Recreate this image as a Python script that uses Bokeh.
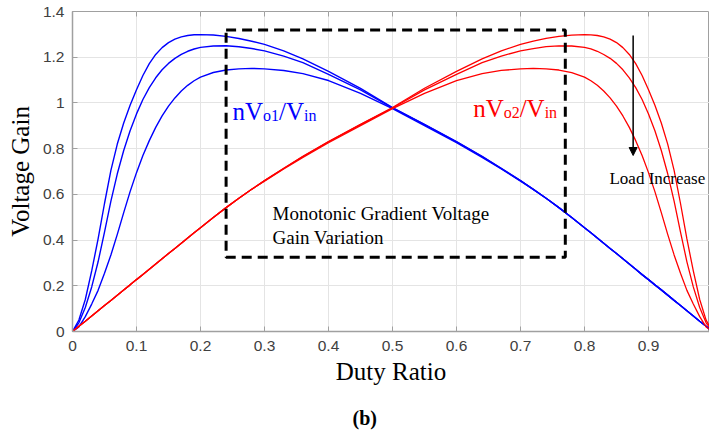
from bokeh.plotting import figure
from bokeh.models import (ColumnDataSource, FixedTicker, Range1d,
                          BoxAnnotation, Label, Arrow, NormalHead, Title)
from bokeh.embed import file_html
from bokeh.resources import INLINE

duty = [0.00, 0.01, 0.02, 0.03, 0.04, 0.05, 0.06, 0.07, 0.08, 0.09, 0.10,
        0.11, 0.12, 0.13, 0.14, 0.15, 0.16, 0.17, 0.18, 0.19, 0.20,
        0.22, 0.24, 0.26, 0.28, 0.30, 0.33, 0.36, 0.40, 0.45,
        0.50,
        0.55, 0.60, 0.64, 0.67, 0.70, 0.72, 0.74, 0.76, 0.78,
        0.80, 0.81, 0.82, 0.83, 0.84, 0.85, 0.86, 0.87, 0.88, 0.89, 0.90,
        0.91, 0.92, 0.93, 0.94, 0.95, 0.96, 0.97, 0.98, 0.99, 1.00]

blue_a = [0.000, 0.050, 0.140, 0.265, 0.405, 0.560, 0.705, 0.820, 0.912, 0.990, 1.058,
          1.120, 1.172, 1.212, 1.242, 1.264, 1.279, 1.289, 1.295, 1.298, 1.299,
          1.297, 1.291, 1.282, 1.270, 1.256, 1.228, 1.193, 1.138, 1.064,
          0.980,
          0.906, 0.831, 0.766, 0.714, 0.660, 0.622, 0.583, 0.542, 0.499,
          0.454, 0.432, 0.409, 0.386, 0.363, 0.341, 0.318, 0.295, 0.272, 0.249, 0.227,
          0.204, 0.182, 0.159, 0.136, 0.114, 0.091, 0.068, 0.045, 0.023, 0.000]
blue_b = [0.000, 0.038, 0.105, 0.195, 0.305, 0.435, 0.570, 0.690, 0.792, 0.878, 0.952,
          1.015, 1.067, 1.110, 1.145, 1.173, 1.195, 1.212, 1.226, 1.236, 1.243,
          1.249, 1.250, 1.246, 1.238, 1.228, 1.205, 1.176, 1.125, 1.057,
          0.978,
          0.905, 0.830, 0.765, 0.713, 0.660, 0.622, 0.583, 0.542, 0.499,
          0.454, 0.432, 0.409, 0.386, 0.363, 0.341, 0.318, 0.295, 0.272, 0.249, 0.227,
          0.204, 0.182, 0.159, 0.136, 0.114, 0.091, 0.068, 0.045, 0.023, 0.000]
blue_c = [0.000, 0.020, 0.065, 0.120, 0.180, 0.255, 0.335, 0.425, 0.520, 0.612, 0.695,
          0.770, 0.835, 0.893, 0.943, 0.986, 1.022, 1.052, 1.077, 1.097, 1.113,
          1.133, 1.144, 1.149, 1.151, 1.149, 1.142, 1.128, 1.098, 1.042,
          0.975,
          0.901, 0.826, 0.762, 0.711, 0.658, 0.622, 0.583, 0.542, 0.499,
          0.454, 0.432, 0.409, 0.386, 0.363, 0.341, 0.318, 0.295, 0.272, 0.249, 0.227,
          0.204, 0.182, 0.159, 0.136, 0.114, 0.091, 0.068, 0.045, 0.023, 0.000]

red_a = [0.000, 0.023, 0.045, 0.068, 0.091, 0.114, 0.136, 0.159, 0.182, 0.204, 0.227,
         0.249, 0.272, 0.295, 0.318, 0.341, 0.363, 0.386, 0.409, 0.432, 0.454,
         0.499, 0.542, 0.583, 0.622, 0.660, 0.714, 0.766, 0.831, 0.906,
         0.980,
         1.064, 1.138, 1.193, 1.228, 1.256, 1.270, 1.282, 1.291, 1.297,
         1.299, 1.298, 1.295, 1.289, 1.279, 1.264, 1.242, 1.212, 1.172, 1.120, 1.058,
         0.990, 0.912, 0.820, 0.705, 0.560, 0.405, 0.265, 0.140, 0.050, 0.000]
red_b = [0.000, 0.023, 0.045, 0.068, 0.091, 0.114, 0.136, 0.159, 0.182, 0.204, 0.227,
         0.249, 0.272, 0.295, 0.318, 0.341, 0.363, 0.386, 0.409, 0.432, 0.454,
         0.499, 0.542, 0.583, 0.622, 0.660, 0.713, 0.765, 0.830, 0.905,
         0.978,
         1.057, 1.125, 1.176, 1.205, 1.228, 1.238, 1.246, 1.250, 1.249,
         1.243, 1.236, 1.226, 1.212, 1.195, 1.173, 1.145, 1.110, 1.067, 1.015, 0.952,
         0.878, 0.792, 0.690, 0.570, 0.435, 0.305, 0.195, 0.105, 0.038, 0.000]
red_c = [0.000, 0.023, 0.045, 0.068, 0.091, 0.114, 0.136, 0.159, 0.182, 0.204, 0.227,
         0.249, 0.272, 0.295, 0.318, 0.341, 0.363, 0.386, 0.409, 0.432, 0.454,
         0.499, 0.542, 0.583, 0.622, 0.658, 0.711, 0.762, 0.826, 0.901,
         0.975,
         1.042, 1.098, 1.128, 1.142, 1.149, 1.151, 1.149, 1.144, 1.133,
         1.113, 1.097, 1.077, 1.052, 1.022, 0.986, 0.943, 0.893, 0.835, 0.770, 0.695,
         0.612, 0.520, 0.425, 0.335, 0.255, 0.180, 0.120, 0.065, 0.020, 0.000]

x_ticks = [0.0, 0.1, 0.2, 0.3, 0.4, 0.5, 0.6, 0.7, 0.8, 0.9]
x_tick_labels = ["0", "0.1", "0.2", "0.3", "0.4", "0.5", "0.6", "0.7", "0.8", "0.9"]
y_ticks = [0.0, 0.2, 0.4, 0.6, 0.8, 1.0, 1.2, 1.4]
y_tick_labels = ["0", "0.2", "0.4", "0.6", "0.8", "1", "1.2", "1.4"]

SERIF = "Liberation Serif"
SANS = "Liberation Sans"
AX_GRAY = "#a0a0a0"
Y_TOP = 1.4
TICK_LEN = 5 / 228.6

src = ColumnDataSource(dict(duty=duty, blue_a=blue_a, blue_b=blue_b, blue_c=blue_c,
                            red_a=red_a, red_b=red_b, red_c=red_c))

p = figure(frame_width=637, frame_height=320,
           x_range=Range1d(0, 0.9953), y_range=Range1d(0, Y_TOP),
           output_backend="svg", toolbar_location=None,
           min_border_left=72, min_border_right=0, min_border_top=11, min_border_bottom=105,
           background_fill_color="white", border_fill_color="white")
p.outline_line_color = AX_GRAY

for ax, ticks, labels in ((p.xaxis[0], x_ticks, x_tick_labels), (p.yaxis[0], y_ticks, y_tick_labels)):
    ax.ticker = FixedTicker(ticks=ticks)
    ax.major_label_overrides = dict(zip(ticks, labels))
    ax.axis_line_color = AX_GRAY
    ax.axis_line_width = 1.5
    ax.major_tick_line_color = AX_GRAY
    ax.major_tick_in = 5
    ax.major_tick_out = 0
    ax.minor_tick_line_color = None
    ax.major_label_text_font = SANS
    ax.major_label_text_font_size = "15.5px"
    ax.major_label_text_color = "#404040"
    ax.axis_label_text_font = SERIF
    ax.axis_label_text_font_size = "25px"
    ax.axis_label_text_font_style = "normal"
    ax.axis_label_text_color = "black"

p.xaxis[0].axis_label = "Duty Ratio"
p.xaxis[0].major_label_standoff = 9
p.xaxis[0].axis_label_standoff = 4
p.yaxis[0].axis_label = "Voltage Gain"
p.yaxis[0].major_label_standoff = 8
p.yaxis[0].axis_label_standoff = 6

p.xgrid.ticker = FixedTicker(ticks=x_ticks)
p.ygrid.ticker = FixedTicker(ticks=y_ticks)
p.xgrid.grid_line_color = "#e4e4e4"
p.ygrid.grid_line_color = "#e4e4e4"

# inward tick marks along the top edge of the box
p.segment(x0=x_ticks, y0=[Y_TOP] * len(x_ticks), x1=x_ticks,
          y1=[Y_TOP - TICK_LEN] * len(x_ticks), line_color=AX_GRAY, line_width=1)

for col in ("blue_a", "blue_b", "blue_c"):
    p.line("duty", col, source=src, line_color="#0000ff", line_width=1.4)
for col in ("red_a", "red_b", "red_c"):
    p.line("duty", col, source=src, line_color="#ff0000", line_width=1.3)

p.add_layout(BoxAnnotation(left=0.24, right=0.77, bottom=0.325, top=1.319,
                           fill_alpha=0, fill_color=None, line_color="black",
                           line_alpha=1.0, line_width=3, line_dash="10 6"))

def formula(x, y, sub1, color):
    pieces = [("nV", 0.0, 0.0, "25px"), (sub1, 30.5, -0.018, "16px"),
              ("/V", 46.5, 0.0, "25px"), ("in", 71.5, -0.018, "16px")]
    for txt, dx, dy, size in pieces:
        p.add_layout(Label(x=x, y=y + dy, x_offset=dx, text=txt, text_font=SERIF,
                           text_font_size=size, text_color=color,
                           text_baseline="alphabetic"))

formula(0.25, 0.963, "o1", "#0000ff")
formula(0.626, 0.975, "o2", "#ff0000")

p.add_layout(Label(x=0.3125, y=0.516, text="Monotonic Gradient Voltage", text_font=SERIF,
                   text_font_size="19px", text_color="black", text_baseline="alphabetic"))
p.add_layout(Label(x=0.3125, y=0.413, text="Gain Variation", text_font=SERIF,
                   text_font_size="19px", text_color="black", text_baseline="alphabetic"))
p.add_layout(Label(x=0.839, y=0.669, text="Load Increase", text_font=SERIF,
                   text_font_size="17px", text_color="black", text_baseline="alphabetic"))

p.add_layout(Arrow(end=NormalHead(size=8, fill_color="black", line_color="black"),
                   x_start=0.876, y_start=1.295, x_end=0.876, y_end=0.77,
                   line_color="black", line_width=1.5))

p.add_layout(Title(text="(b)", align="left", offset=280, standoff=34, text_font=SERIF,
                   text_font_size="20px", text_font_style="bold", text_color="black"),
             "below")

open("out.html", "w").write(file_html(p, INLINE))
